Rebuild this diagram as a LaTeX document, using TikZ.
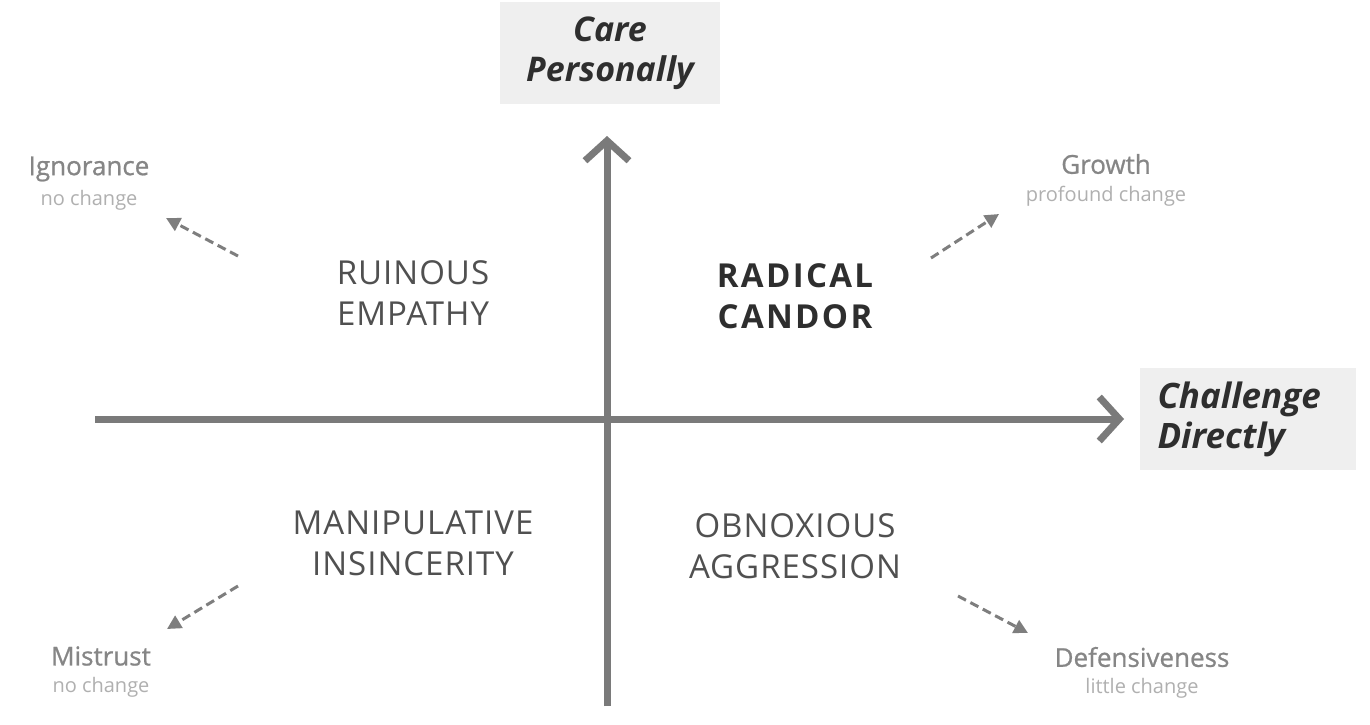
\documentclass[tikz,border=0pt]{standalone}
\usepackage{fontspec}
\setmainfont{Open Sans}
\newfontfamily\capsfont[LetterSpace=3]{Open Sans}
\newfontfamily\candorfont[LetterSpace=7]{Open Sans}
\newfontfamily\outfont[FakeBold=0.8]{Open Sans}
\usetikzlibrary{arrows.meta}
\definecolor{axisgray}{HTML}{7A7A7A}
\definecolor{quadgray}{HTML}{505050}
\definecolor{darktxt}{HTML}{2E2E2E}
\definecolor{sidegray}{HTML}{868686}
\definecolor{sublight}{HTML}{B0B0B0}
\definecolor{boxfill}{HTML}{EFEFEF}
\definecolor{dashgray}{HTML}{7E7E7E}
\tikzset{
  axisline/.style={draw=axisgray, line width=7pt, -{Straight Barb[length=20pt,width=44pt,line width=7pt]}},
  axisbox/.style={fill=boxfill, inner sep=0pt},
  axistext/.style={font=\fontsize{34}{40}\selectfont\bfseries\itshape, text=darktxt},
  quadlabel/.style={font=\capsfont\fontsize{33}{41}\selectfont, text=quadgray, align=center},
  candorlabel/.style={font=\candorfont\fontsize{33}{41}\selectfont\bfseries, text=darktxt, align=center},
  outcome/.style={font=\outfont\fontsize{26}{26}\selectfont, text=sidegray, align=center, inner sep=0pt},
  outsub/.style={font=\fontsize{20}{20}\selectfont, text=sublight, inner sep=0pt},
  dasharrow/.style={draw=dashgray, line width=3pt, dash pattern=on 9pt off 5pt, -{Triangle[length=14pt,width=14pt]}}
}
\begin{document}
\begin{tikzpicture}[x=1pt,y=-1pt]
\useasboundingbox (0,0) rectangle (1370,724);
\fill[white] (0,0) rectangle (1370,724);
% axes
\coordinate (vbot) at (607,706);
\coordinate (vtop) at (607,136);
\coordinate (hleft) at (95,419);
\coordinate (hright) at (1124,419);
\draw[axisline] (vbot) -- (vtop);
\draw[axisline] (hleft) -- (hright);
% axis label boxes
\node[axisbox, minimum width=220pt, minimum height=102pt] (care) at (610,53) {};
\node[axistext, align=center] (caretxt) at (610,53) {Care\\Personally};
\node[axisbox, minimum width=216pt, minimum height=102pt] (chal) at (1248,419) {};
\node[axistext, font=\fontsize{35}{40}\selectfont\bfseries\itshape, align=left, anchor=west] (chaltxt) at (1154,419) {Challenge\\Directly};
% quadrant labels
\node[quadlabel] (ruin) at (413,293) {RUINOUS\\EMPATHY};
\node[candorlabel] (candor) at (795,296) {RADICAL\\CANDOR};
\node[quadlabel] (manip) at (413,543) {MANIPULATIVE\\INSINCERITY};
\node[quadlabel] (obnox) at (795,546) {OBNOXIOUS\\AGGRESSION};
% outcomes
\node[outcome] (ign) at (89,169) {Ignorance};
\node[outsub] (ignsub) at (89,200) {no change};
\node[outcome] (grow) at (1106,164) {Growth};
\node[outsub] (growsub) at (1106,196) {profound change};
\node[outcome] (mist) at (101,656) {Mistrust};
\node[outsub] (mistsub) at (101,687) {no change};
\node[outcome] (def) at (1142,657) {Defensiveness};
\node[outsub] (defsub) at (1142,688) {little change};
% dashed arrows
\coordinate (a1s) at (238,256);
\coordinate (a1e) at (166,218);
\coordinate (a2s) at (931,258);
\coordinate (a2e) at (999,214);
\coordinate (a3s) at (238,586);
\coordinate (a3e) at (167,629);
\coordinate (a4s) at (958,596);
\coordinate (a4e) at (1028,633);
\draw[dasharrow] (a1s) -- (a1e);
\draw[dasharrow] (a2s) -- (a2e);
\draw[dasharrow] (a3s) -- (a3e);
\draw[dasharrow] (a4s) -- (a4e);
\end{tikzpicture}
\end{document}
